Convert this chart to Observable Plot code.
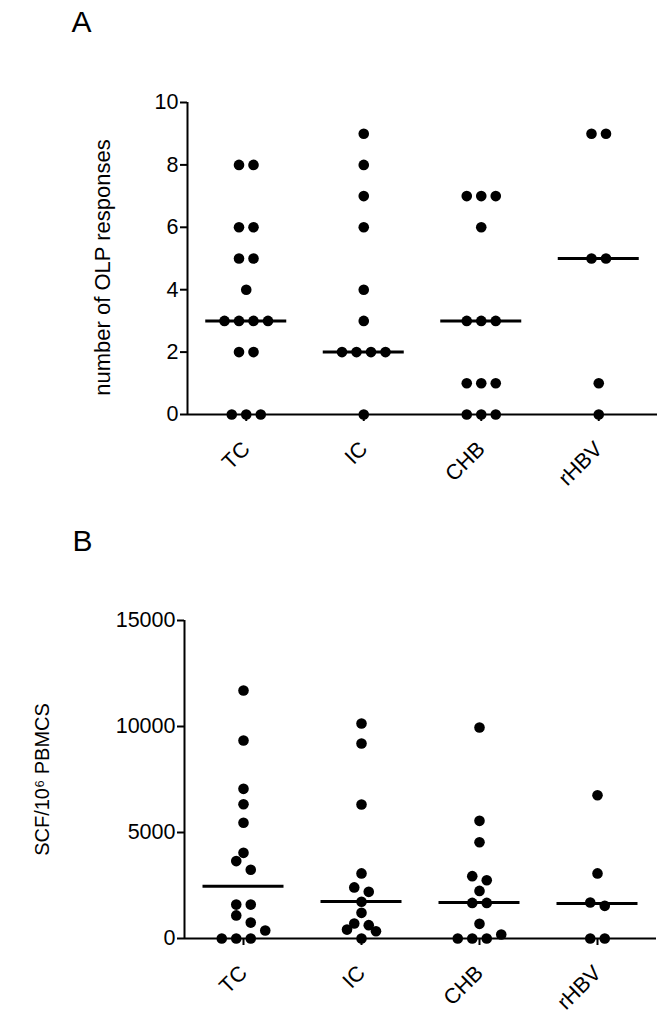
<!DOCTYPE html>
<html>
<head>
<meta charset="utf-8">
<script src="https://cdn.jsdelivr.net/npm/d3@7"></script>
<script src="https://cdn.jsdelivr.net/npm/@observablehq/plot@0.6"></script>
<style>
  html, body { margin: 0; padding: 0; background: #fff; }
  #chart svg { display: block; }
</style>
</head>
<body>
<div id="chart"></div>
<script>
// ---- data ----
const groups = ["TC", "IC", "CHB", "rHBV"];

// Panel A: number of OLP responses
const olpTC   = [8, 8, 6, 6, 5, 5, 4, 3, 3, 3, 3, 2, 2, 0, 0, 0];
const olpIC   = [9, 8, 7, 6, 4, 3, 2, 2, 2, 2, 0];
const olpCHB  = [7, 7, 7, 6, 3, 3, 3, 1, 1, 1, 0, 0, 0];
const olpRHBV = [9, 9, 5, 5, 1, 0];
const olpMedianLines = [3, 2, 3, 5];
const olpTicks = [0, 2, 4, 6, 8, 10];

// Panel B: SCF / 10^6 PBMCS
const scfTC   = [0, 0, 0, 380, 1090, 750, 1600, 1600, 3650, 3240, 4040, 5460, 6330, 7060, 9340, 11700];
const scfIC   = [420, 0, 340, 710, 630, 1210, 1730, 2410, 2200, 3070, 6320, 9200, 10140];
const scfCHB  = [0, 0, 0, 190, 690, 1680, 1680, 2245, 2940, 2750, 4540, 5550, 9950];
const scfRHBV = [0, 0, 1700, 1540, 3070, 6760];
const scfMedianLines = [2460, 1750, 1700, 1650];
const scfTicks = [0, 5000, 10000, 15000];

// ---- layout helpers ----
const font = "Liberation Sans, Arial, Helvetica, sans-serif";
const dotR = 5.3;
const dotSpacingPx = 14.5;   // horizontal spacing of dots sharing a row
const medianHalfPx = 40.5;

// Prism-like scatter arrangement: rows of nearby values spread symmetrically
function arrange(seriesList, pxPerUnit, stepPx, rowPx) {
  const pts = [];
  seriesList.forEach((vals, gi) => {
    const items = vals.map((v, i) => ({v, i}));
    const sorted = items.slice().sort((a, b) => a.v - b.v || a.i - b.i);
    const rows = [];
    let cur = null;
    for (const p of sorted) {
      if (cur && (p.v - cur.start) * pxPerUnit < rowPx) cur.items.push(p);
      else { cur = {start: p.v, items: [p]}; rows.push(cur); }
    }
    for (const r of rows) {
      r.items.sort((a, b) => a.i - b.i);
      const n = r.items.length;
      r.items.forEach((p, k) => {
        pts.push({g: gi, value: p.v, xpos: gi + (k - (n - 1) / 2) * dotSpacingPx / stepPx});
      });
    }
  });
  return pts;
}

function panel({series, medians, ticks, yMax, height, mt, mb, ml, mr, ylabel, ylabelSize, ylabelDx, ylabelDy, letter, letterDx, letterDy}) {
  const width = 672;
  const innerW = width - ml - mr;
  const innerH = height - mt - mb;
  const stepPx = innerW / groups.length;
  const xDomain = [-0.5, groups.length - 0.5];
  const pts = arrange(series, innerH / yMax, stepPx, 9);
  const hw = medianHalfPx / stepPx;
  const med = medians.map((m, i) => ({i, m}));
  return Plot.plot({
    width, height,
    marginTop: mt, marginBottom: mb, marginLeft: ml, marginRight: mr,
    style: {fontFamily: font, fontSize: "21px", color: "#000", background: "#fff"},
    x: {type: "linear", domain: xDomain, axis: null},
    y: {domain: [0, yMax], axis: null},
    marks: [
      Plot.axisY({ticks, tickSize: 7, tickPadding: 2, strokeWidth: 2, tickFormat: d3.format("d"), label: null, fontSize: 21.5}),
      Plot.axisX({ticks: d3.range(groups.length), tickFormat: i => groups[i], tickRotate: -45, tickSize: 7, tickPadding: 24, strokeWidth: 2, label: null, fontSize: 21.5}),
      Plot.ruleX([xDomain[0]], {y1: 0, y2: yMax, strokeWidth: 2}),
      Plot.ruleY([0], {x1: xDomain[0], x2: xDomain[1], strokeWidth: 2}),
      Plot.ruleY(med, {y: "m", x1: d => d.i - hw, x2: d => d.i + hw, strokeWidth: 3}),
      Plot.dot(pts, {x: "xpos", y: "value", r: dotR, fill: "#000", stroke: null}),
      Plot.text([ylabel], {frameAnchor: "left", text: d => d, rotate: -90, textAnchor: "middle", dx: ylabelDx, dy: ylabelDy, fontSize: ylabelSize}),
      Plot.text([letter], {frameAnchor: "top-left", text: d => d, textAnchor: "start", dx: letterDx, dy: letterDy, fontSize: 30})
    ]
  });
}

const chart = document.getElementById("chart");
chart.append(panel({
  series: [olpTC, olpIC, olpCHB, olpRHBV], medians: olpMedianLines, ticks: olpTicks, yMax: 10,
  height: 510, mt: 102, mb: 96, ml: 187, mr: 15,
  ylabel: "number of OLP responses", ylabelSize: 22, ylabelDx: -85, ylabelDy: 9,
  letter: "A", letterDx: -116, letterDy: -92
}));
chart.append(panel({
  series: [scfTC, scfIC, scfCHB, scfRHBV], medians: scfMedianLines, ticks: scfTicks, yMax: 15000,
  height: 514, mt: 110, mb: 86, ml: 184, mr: 16,
  ylabel: "SCF/10⁶ PBMCS", ylabelSize: 20, ylabelDx: -142, ylabelDy: 0,
  letter: "B", letterDx: -112, letterDy: -91
}));
</script>
</body>
</html>
